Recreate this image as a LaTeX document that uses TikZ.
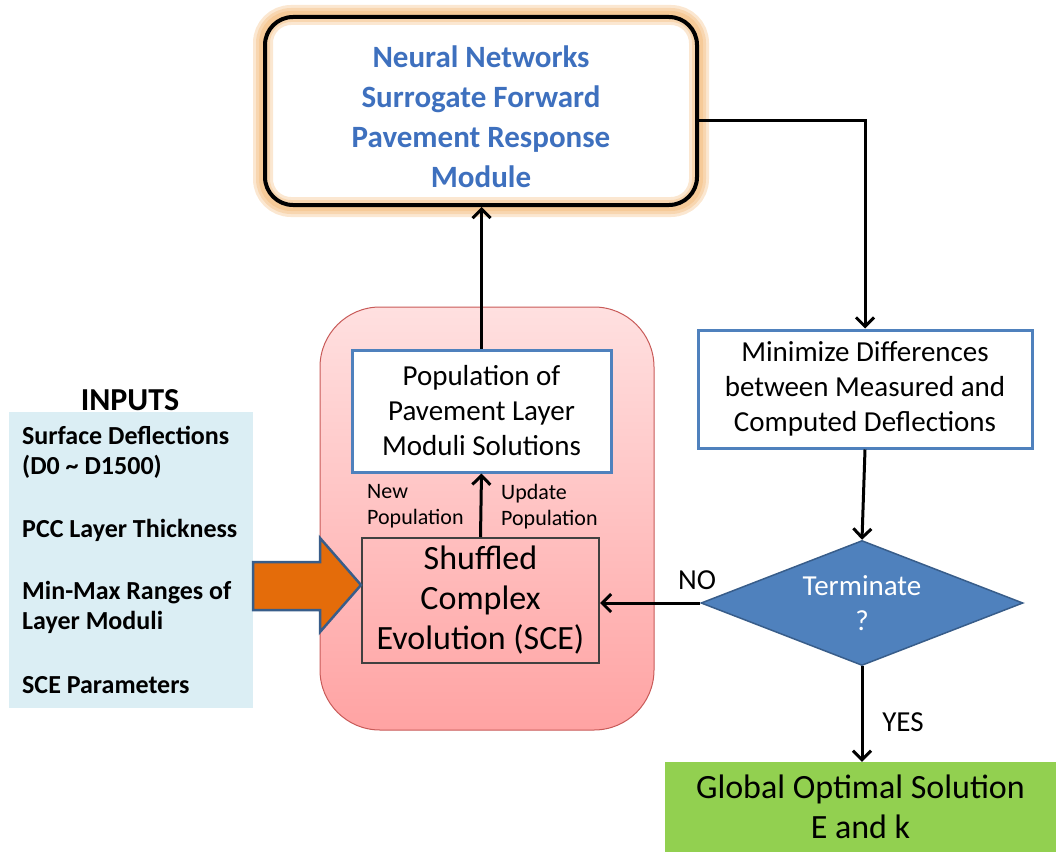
\documentclass[tikz,border=0pt]{standalone}
\usepackage{fontspec}
\setmainfont{Carlito}
\usepackage{tikz}
\usetikzlibrary{shapes.geometric,arrows.meta,backgrounds}
\definecolor{nnblue}{RGB}{62,112,190}
\definecolor{boxblue}{RGB}{79,129,189}
\definecolor{darkblue}{RGB}{56,93,138}
\definecolor{glow}{RGB}{240,170,90}
\definecolor{pinktop}{RGB}{255,224,224}
\definecolor{pinkbot}{RGB}{255,163,163}
\definecolor{pinkedge}{RGB}{200,90,88}
\definecolor{inputbg}{RGB}{219,238,244}
\definecolor{arroworange}{RGB}{228,108,10}
\definecolor{solgreen}{RGB}{146,208,80}

\begin{document}
\begin{tikzpicture}[x=1bp, y=-1bp,
    flow/.style={line width=3bp, -{Straight Barb[length=9bp,width=18bp,line width=3bp]}},
    bluebox/.style={draw=boxblue, line width=3bp, fill=white, inner sep=0pt, align=center,
        font=\fontsize{29bp}{35bp}\selectfont},
    inputtext/.style={anchor=base west, inner sep=0pt, font=\fontsize{26bp}{30bp}\selectfont\bfseries},
    poplabel/.style={anchor=north west, inner sep=0pt, align=left, font=\fontsize{22bp}{26bp}\selectfont}]
    \useasboundingbox (0,0) rectangle (1056,852);

    % pink container and the two boxes inside it
    \node (sceback) [draw=pinkedge, line width=1bp, rounded corners=60bp, top color=pinktop, bottom color=pinkbot,
        minimum width=334bp, minimum height=423bp] at (487,518.5) {};
    \node (pop) [bluebox, minimum width=259bp, minimum height=122bp] at (481.5,411)
        {Population of\\Pavement Layer\\Moduli Solutions};
    \node (sce) [draw=black!75, line width=2bp, inner sep=0pt, align=center, minimum width=237bp, minimum height=125bp,
        font=\fontsize{34bp}{40bp}\selectfont] at (480.5,600.5) {Shuffled\\Complex\\Evolution (SCE)};
    \node (newpop) [poplabel] at (367,484) {New\\Population};
    \node (updpop) [poplabel] at (501,484) {Update\\Population};

    % surrogate module with its glow
    \node (nn) [draw, line width=4bp, rounded corners=28bp, minimum width=432bp, minimum height=188bp] at (481,111) {};
    \node (nntext) [align=center, text=nnblue, font=\fontsize{31bp}{40bp}\selectfont\bfseries] at (481,117)
        {Neural Networks\\Surrogate Forward\\Pavement Response\\Module};
    \begin{scope}[on background layer]
        \foreach \w in {20,14,8}
            \draw [glow, opacity=0.28, line width=\w bp, rounded corners=28bp] (nn.north west) rectangle (nn.south east);
    \end{scope}

    % right column
    \node (mini) [bluebox, minimum width=334bp, minimum height=118bp] at (865,389)
        {Minimize Differences\\between Measured and\\Computed Deflections};
    \node (term) [diamond, aspect=2.58, fill=boxblue, draw=darkblue, line width=1.5bp, inner sep=0pt, minimum width=322bp, minimum height=125bp,
        text=white, align=center, font=\fontsize{29bp}{35bp}\selectfont] at (862,603) {Terminate\\?};
    \node (sol) [fill=solgreen, inner sep=0pt, minimum width=391bp, minimum height=90bp, align=center,
        font=\fontsize{34bp}{40bp}\selectfont] at (860.5,807) {Global Optimal Solution\\E and k};

    % inputs
    \node (inputs) [font=\fontsize{32bp}{34bp}\selectfont\bfseries] at (130,400) {INPUTS};
    \node (panel) [fill=inputbg, inner sep=0pt, minimum width=244bp, minimum height=296bp] at (131,560) {};
    \node (in1) [inputtext] at (22,444) {Surface Deflections};
    \node (in2) [inputtext] at (22,474) {(D0 \textasciitilde{} D1500)};
    \node (in3) [inputtext] at (22,537) {PCC Layer Thickness};
    \node (in4) [inputtext] at (22,599) {Min-Max Ranges of};
    \node (in5) [inputtext] at (22,629) {Layer Moduli};
    \node (in6) [inputtext] at (22,693) {SCE Parameters};
    \draw [fill=arroworange, draw=darkblue, line width=2.5bp, line join=miter]
        (panel.east |- 0,562) -- (320,562) -- (320,538) -- (sce.west |- 0,585) -- (320,632) -- (320,610) -- (panel.east |- 0,610) -- cycle;

    % connectors
    \draw [flow] (sce.north) -- (pop.south);
    \draw [flow] (pop.north) -- (pop.north |- nn.south);
    \draw [flow] ([yshift=-9bp]nn.east) -| (mini.north);
    \draw [flow] (mini.south) -- (term.north);
    \draw [flow] (term.west) -- (term.west -| sce.east);
    \draw [flow] (term.south) -- (sol.north -| term.south);
    \node (no) [font=\fontsize{29bp}{30bp}\selectfont] at (697,580) {NO};
    \node (yes) [font=\fontsize{29bp}{30bp}\selectfont] at (903,722) {YES};
\end{tikzpicture}
\end{document}
